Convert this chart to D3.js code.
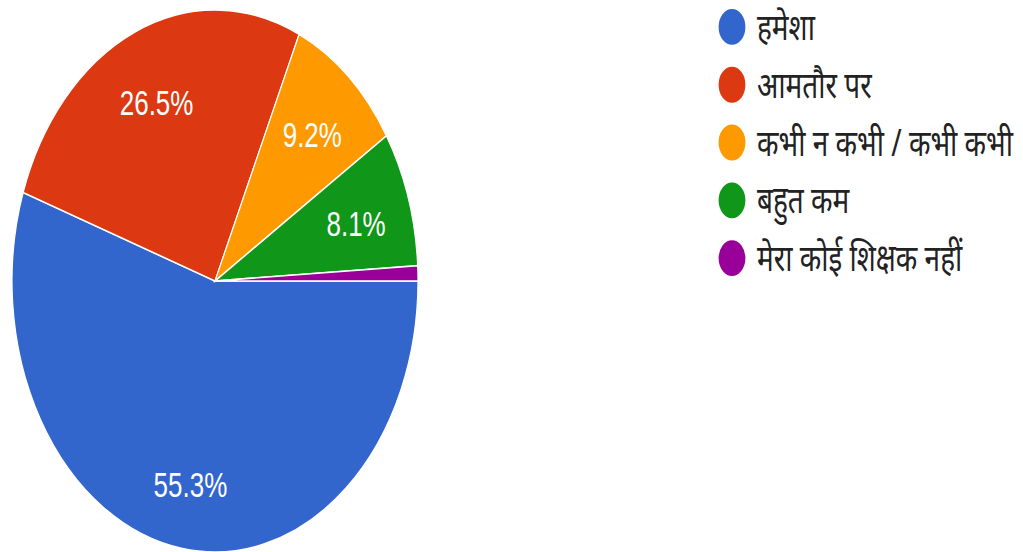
<!DOCTYPE html>
<html>
<head>
<meta charset="utf-8">
<script src="https://cdn.jsdelivr.net/npm/d3@7"></script>
<style>
  body { margin: 0; background: #fff; }
  svg { display: block; }
</style>
</head>
<body>
<svg width="1023" height="552"></svg>
<script>
var labels = ["हमेशा", "आमतौर पर", "कभी न कभी / कभी कभी", "बहुत कम", "मेरा कोई शिक्षक नहीं"];
var values = [55.3, 26.5, 9.2, 8.1, 0.9];
var colors = ["#3366cc", "#dc3912", "#ff9900", "#109618", "#990099"];

var data = labels.map(function(l, i) { return {label: l, value: values[i], color: colors[i]}; });

var svg = d3.select("svg");
// the picture is stretched vertically, so draw everything in a squashed frame
var sy = 1.335;
var g = svg.append("g").attr("transform", "scale(1," + sy + ")");

var cx = 215, cy = 210.5, r = 203;

var pie = d3.pie()
    .sort(null)
    .value(function(d) { return d.value; })
    .startAngle(Math.PI / 2)
    .endAngle(Math.PI / 2 + 2 * Math.PI);

var arc = d3.arc().innerRadius(0).outerRadius(r);
var labelArc = d3.arc().innerRadius(r * 0.73).outerRadius(r * 0.73);

var chart = g.append("g").attr("transform", "translate(" + cx + "," + cy + ")");

chart.selectAll("path")
    .data(pie(data))
    .enter().append("path")
    .attr("d", arc)
    .attr("fill", function(d) { return d.data.color; })
    .attr("stroke", "#fff")
    .attr("stroke-width", 1.2);

chart.selectAll("text")
    .data(pie(data).filter(function(d) { return d.data.value > 5; }))
    .enter().append("text")
    .attr("transform", function(d) { return "translate(" + labelArc.centroid(d) + ")"; })
    .attr("text-anchor", "middle")
    .attr("dy", function(d) { return d.data.value > 50 ? "0.6em" : "0.45em"; })
    .attr("fill", "#fff")
    .style("font-family", "'Liberation Sans', Arial, sans-serif")
    .style("font-size", "26px")
    .text(function(d) { return d.data.value.toFixed(1) + "%"; });

var ly = d3.scalePoint()
    .domain(labels)
    .range([20.2, 193.3]);

var legend = g.append("g").selectAll("g")
    .data(data)
    .enter().append("g")
    .attr("transform", function(d) { return "translate(732," + ly(d.label) + ")"; });

legend.append("circle")
    .attr("r", 13.4)
    .attr("fill", function(d) { return d.color; });

legend.append("text")
    .attr("x", 25)
    .attr("dy", "0.35em")
    .attr("fill", "#222")
    .style("font-family", "'Noto Sans', sans-serif")
    .style("font-size", "28px")
    .text(function(d) { return d.label; });
</script>
</body>
</html>
